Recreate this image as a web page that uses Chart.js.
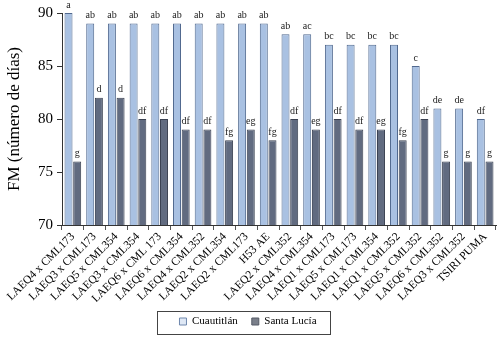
<!DOCTYPE html>
<html><head><meta charset="utf-8">
<script src="https://cdn.jsdelivr.net/npm/chart.js@4"></script>
<style>html,body{margin:0;padding:0;background:#fff}#w{width:500px;height:337px;position:relative}</style>
</head><body><div id="w"><canvas id="c"></canvas></div>
<script>
const categories = ["LAEQ4 x CML173","LAEQ3 x CML173","LAEQ5 x CML354","LAEQ3 x CML354","LAEQ6 x CML 173","LAEQ6 x CML354","LAEQ4 x CML352","LAEQ2 x CML354","LAEQ2 x CML173","H53 AE","LAEQ2 x CML352","LAEQ4 x CML354","LAEQ1 x CML173","LAEQ5 x CML173","LAEQ1 x CML354","LAEQ1 x CML352","LAEQ5 x CML352","LAEQ6 x CML352","LAEQ3 x CML352","TSIRI PUMA"];
const cuautitlan = [90,89,89,89,89,89,89,89,89,89,88,88,87,87,87,87,85,81,81,80];
const santaLucia = [76,82,82,80,80,79,79,78,79,78,80,79,80,79,79,78,80,76,76,76];
const lettersCuautitlan = ["a","ab","ab","ab","ab","ab","ab","ab","ab","ab","ab","ac","bc","bc","bc","bc","c","de","de","df"];
const lettersSantaLucia = ["g","d","d","df","df","df","df","fg","eg","fg","df","eg","df","df","eg","fg","df","g","g","g"];
const yTicks = [70,75,80,85,90];
const seriesNames = ["Cuautitlán","Santa Lucía"];

const FONT = "'Liberation Serif', 'Times New Roman', serif";
const letterSets = [lettersCuautitlan, lettersSantaLucia];

const lettersPlugin = {
  id: 'letters',
  afterDatasetsDraw(chart) {
    const ctx = chart.ctx;
    ctx.save();
    ctx.font = "10px " + FONT;
    ctx.fillStyle = "#222";
    ctx.textAlign = "center";
    ctx.textBaseline = "bottom";
    chart.data.datasets.forEach((ds, di) => {
      const meta = chart.getDatasetMeta(di);
      meta.data.forEach((bar, i) => {
        ctx.fillText(letterSets[di][i], bar.x, bar.y - 3);
      });
    });
    ctx.restore();
  }
};

const legendBox = {
  id: 'legendBox',
  afterDraw(chart) {
    const lg = chart.legend;
    if (!lg || !lg.legendHitBoxes || !lg.legendHitBoxes.length) return;
    const hb = lg.legendHitBoxes;
    const first = hb[0], last = hb[hb.length - 1];
    const x0 = first.left - 22, x1 = last.left + last.width + 14;
    const y0 = first.top - 5, y1 = first.top + first.height + 7;
    const ctx = chart.ctx;
    ctx.save();
    ctx.strokeStyle = "#444";
    ctx.lineWidth = 1;
    ctx.strokeRect(Math.round(x0) + 0.5, Math.round(y0) + 0.5, Math.round(x1 - x0), Math.round(y1 - y0));
    ctx.restore();
  }
};

new Chart(document.getElementById('c'), {
  type: 'bar',
  data: {
    labels: categories,
    datasets: [
      { label: seriesNames[0], data: cuautitlan, backgroundColor: '#a9c1e2', borderColor: '#51698f', borderWidth: 1, categoryPercentage: 0.8, barPercentage: 0.92 },
      { label: seriesNames[1], data: santaLucia, backgroundColor: '#616b80', borderColor: '#3b4252', borderWidth: 1, categoryPercentage: 0.8, barPercentage: 0.92 }
    ]
  },
  options: {
    responsive: true,
    maintainAspectRatio: false,
    animation: false,
    layout: { padding: { top: 10, right: 4, left: 0, bottom: 0 } },
    plugins: {
      tooltip: { enabled: false },
      legend: {
        position: 'bottom',
        labels: {
          font: { family: FONT, size: 11 },
          color: '#111',
          boxWidth: 7, boxHeight: 7,
          padding: 14,
          generateLabels(chart) {
            return chart.data.datasets.map((ds, i) => ({
              text: ds.label,
              fillStyle: i === 0 ? '#dfe8f5' : '#7a7f8a',
              strokeStyle: i === 0 ? '#7088ad' : '#555a66',
              lineWidth: 1,
              datasetIndex: i
            }));
          }
        }
      }
    },
    scales: {
      x: {
        grid: { display: true, drawOnChartArea: false, drawTicks: true, tickLength: 5, color: '#555', offset: true },
        border: { display: true, color: '#333' },
        ticks: { autoSkip: false, maxRotation: 45, minRotation: 45, padding: 0, color: '#000', font: { family: FONT, size: 11.5 } },
        afterFit(s) { s.height = 77; }
      },
      y: {
        min: 70, max: 90,
        afterBuildTicks(s) { s.ticks = yTicks.map(v => ({ value: v })); },
        grid: { display: true, drawOnChartArea: false, drawTicks: true, tickLength: 5, color: '#333' },
        border: { display: true, color: '#333' },
        ticks: { padding: 4, color: '#000', font: { family: FONT, size: 15 } },
        title: { display: true, text: 'FM (número de días)', color: '#000', font: { family: FONT, size: 17 }, padding: { top: 4, bottom: 0 } },
        afterFit(s) { s.width = 62; }
      }
    }
  },
  plugins: [lettersPlugin, legendBox]
});
</script>
</body></html>
